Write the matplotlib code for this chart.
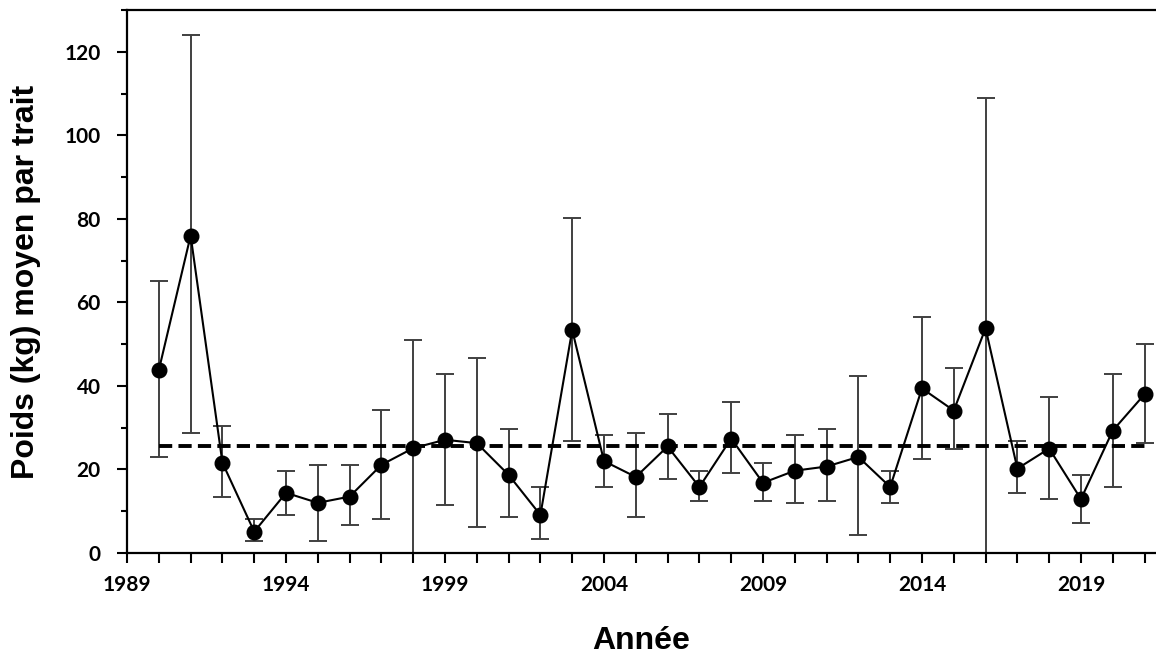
import numpy as np
import matplotlib as mpl
mpl.use('Agg')
from matplotlib import pyplot as plt
from matplotlib.ticker import MultipleLocator

# ---------- data ----------
years = list(range(1990, 2022))
poids = [43.8, 76.0, 21.6, 5.1, 14.4, 12.0, 13.5, 21.1, 25.1, 27.1,
         26.3, 18.7, 9.1, 53.4, 22.0, 18.2, 25.5, 15.8, 27.4, 16.8,
         19.7, 20.7, 23.0, 15.8, 39.4, 34.1, 53.8, 20.2, 25.0, 12.9,
         29.3, 38.0]
haut = [65.0, 123.9, 30.3, 8.1, 19.6, 21.1, 21.1, 34.2, 51.0, 42.9,
        46.6, 29.8, 15.9, 80.3, 28.3, 28.8, 33.2, 19.6, 36.2, 21.6,
        28.3, 29.8, 42.3, 19.6, 56.6, 44.2, 108.9, 26.9, 37.4, 18.6,
        42.9, 50.1]
bas = [23.0, 28.8, 13.4, 2.9, 9.1, 2.8, 6.7, 8.1, 0.0, 11.5,
       6.2, 8.6, 3.3, 26.9, 15.9, 8.6, 17.7, 12.5, 19.2, 12.5,
       12.0, 12.5, 4.2, 12.0, 22.6, 25.0, 0.0, 14.4, 12.9, 7.2,
       15.9, 26.4]
moyenne = 25.7
xticks_lab = [1989, 1994, 1999, 2004, 2009, 2014, 2019]
yticks_lab = [0, 20, 40, 60, 80, 100, 120]

x = np.array(years)
y = np.array(poids)
err = [y - np.array(bas), np.array(haut) - y]

fig = plt.figure(figsize=(11.56, 6.58), dpi=100)
ax = fig.add_axes([0.1099, 0.1596, 0.8901, 0.8252])

ax.errorbar(x, y, yerr=err, fmt='none', ecolor='#404040', elinewidth=1.4,
            capsize=6.5, capthick=1.4, zorder=2)
ax.plot([x[0], x[-1]], [moyenne, moyenne], color='black', lw=2.8,
        dashes=(3.4, 1.6), zorder=3)
ax.plot(x, y, '-o', color='black', lw=1.5, markersize=10.5, zorder=4)

ax.set_xlim(1989, 2021.36)
ax.set_ylim(0, 130)

ax.set_xticks(xticks_lab)
ax.xaxis.set_minor_locator(MultipleLocator(1))
ax.set_yticks(yticks_lab)
ax.yaxis.set_minor_locator(MultipleLocator(10))

tick_font = {'family': 'Lato', 'weight': 'bold', 'size': 15}
ax.set_xticklabels([str(t) for t in xticks_lab], fontdict=tick_font)
ax.set_yticklabels([str(t) for t in yticks_lab], fontdict=tick_font)

ax.tick_params(axis='x', which='both', direction='out', length=7, width=1.5, pad=9)
ax.tick_params(axis='y', which='major', direction='out', length=7, width=1.5, pad=12)
ax.tick_params(axis='y', which='minor', direction='out', length=4, width=1.5)

for s in ['left', 'bottom', 'top']:
    ax.spines[s].set_linewidth(1.6)
ax.spines['right'].set_visible(False)

ax.set_ylabel('Poids (kg) moyen par trait', family='Liberation Sans',
              weight='bold', size=23, labelpad=17)
ax.set_xlabel('Année', family='Liberation Sans', weight='bold', size=23,
              labelpad=22)

plt.savefig('out.png', dpi=100, facecolor='w')
